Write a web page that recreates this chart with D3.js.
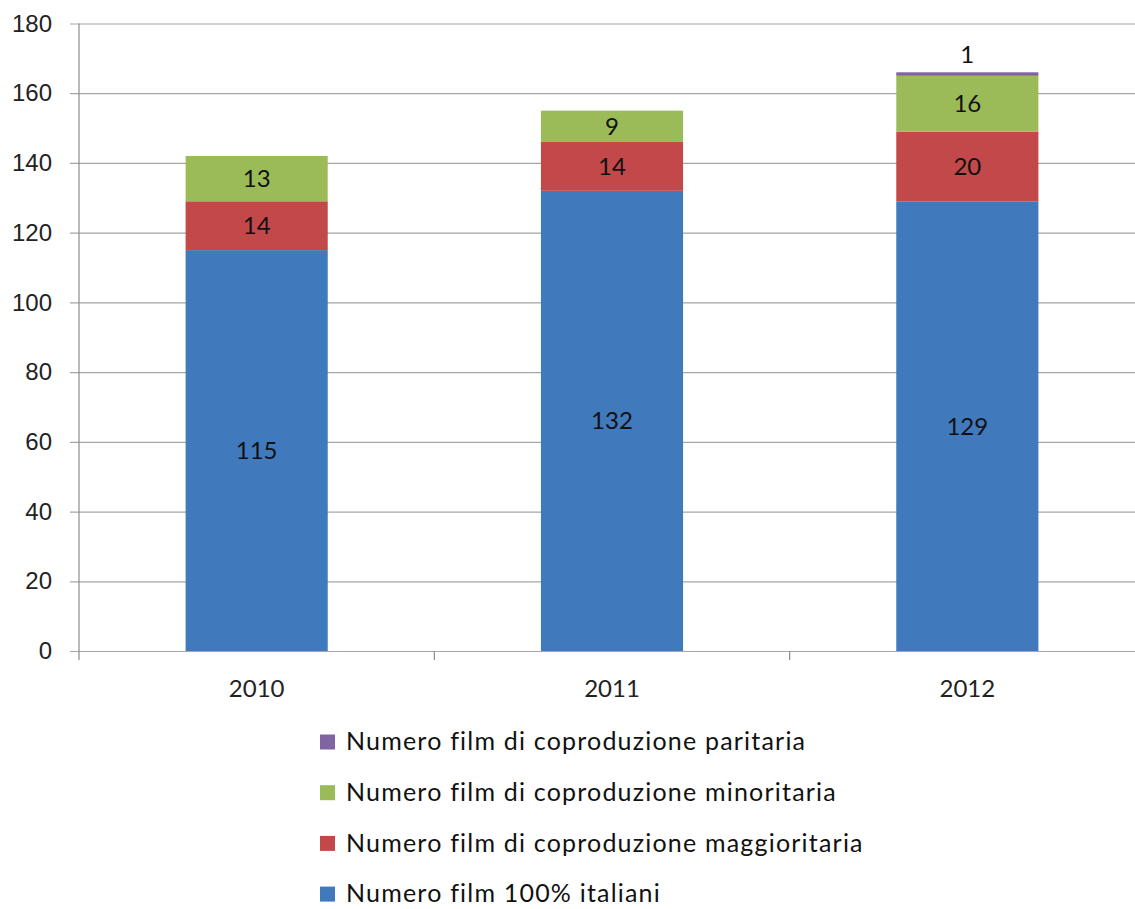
<!DOCTYPE html>
<html>
<head>
<meta charset="utf-8">
<script src="https://cdn.jsdelivr.net/npm/d3@7"></script>
<style>
  body { margin: 0; background: #fff; }
  svg { display: block; font-family: Lato, "Open Sans", sans-serif; }
</style>
</head>
<body>
<div id="chart"></div>
<script>
// data
const years = ["2010", "2011", "2012"];
const italiani = [115, 132, 129];
const maggioritaria = [14, 14, 20];
const minoritaria = [13, 9, 16];
const paritaria = [0, 0, 1];
const yTicks = [0, 20, 40, 60, 80, 100, 120, 140, 160, 180];

const seriesNames = [
  "Numero film 100% italiani",
  "Numero film di coproduzione maggioritaria",
  "Numero film di coproduzione minoritaria",
  "Numero film di coproduzione paritaria"
];
const colors = ["#4179bd", "#c3484a", "#9bbb59", "#8064a2"];

const width = 1135, height = 909;
const margin = { left: 79, top: 23.5, right: -10, bottom: 258 };

let svg = d3.select("#chart").append("svg")
  .attr("width", width)
  .attr("height", height);

let table = years.map((y, i) => ({
  year: y,
  s0: italiani[i], s1: maggioritaria[i], s2: minoritaria[i], s3: paritaria[i]
}));
let stack = d3.stack().keys(["s0", "s1", "s2", "s3"])(table);

let x = d3.scaleBand()
  .domain(years)
  .range([margin.left, width - margin.right])
  .paddingInner(0.6).paddingOuter(0.3);

let y = d3.scaleLinear()
  .domain([0, 180])
  .range([height - margin.bottom, margin.top]);

// gridlines + y axis
let yAxis = svg.append("g")
  .attr("transform", `translate(${margin.left},0)`)
  .call(d3.axisLeft(y).tickValues(yTicks).tickSize(9).tickPadding(6).tickFormat(d3.format("d")));
yAxis.select(".domain").remove();
yAxis.selectAll(".tick line")
  .attr("x2", width)
  .attr("x1", -9)
  .attr("stroke", "#a6a6a6")
  .attr("stroke-width", 1.2);
yAxis.selectAll(".tick text")
  .attr("x", -27)
  .attr("fill", "#222")
  .style("font-size", "24px");

svg.append("line")
  .attr("x1", margin.left).attr("x2", margin.left)
  .attr("y1", y(180)).attr("y2", y(0) + 9)
  .attr("stroke", "#8c8c8c").attr("stroke-width", 1.2);

// category ticks between bands
let step = x.step();
let bounds = [0, 1, 2].map(i => x(years[i]) + x.bandwidth() / 2 + step / 2);
svg.selectAll(".ctick").data(bounds).enter().append("line")
  .attr("x1", d => d).attr("x2", d => d)
  .attr("y1", y(0)).attr("y2", y(0) + 9)
  .attr("stroke", "#8c8c8c").attr("stroke-width", 1.2);

// bars
let layers = svg.selectAll(".layer").data(stack).enter().append("g")
  .attr("fill", (d, i) => colors[i]);

layers.selectAll("rect").data(d => d).enter().append("rect")
  .attr("x", d => x(d.data.year))
  .attr("width", x.bandwidth())
  .attr("y", d => y(d[1]))
  .attr("height", d => y(d[0]) - y(d[1]));

// value labels
stack.forEach((layer, li) => {
  layer.forEach(d => {
    let v = d[1] - d[0];
    if (v <= 0) return;
    let cy = li === 3 ? y(d[1]) - 18 : (y(d[0]) + y(d[1])) / 2;
    svg.append("text")
      .attr("x", x(d.data.year) + x.bandwidth() / 2)
      .attr("y", cy)
      .attr("dy", "0.35em")
      .attr("text-anchor", "middle")
      .attr("fill", "#111")
      .style("font-size", "24px")
      .text(v);
  });
});

// x labels
svg.selectAll(".xlab").data(years).enter().append("text")
  .attr("x", d => x(d) + x.bandwidth() / 2)
  .attr("y", y(0) + 38)
  .attr("dy", "0.35em")
  .attr("text-anchor", "middle")
  .attr("fill", "#222")
  .style("font-size", "24px")
  .text(d => d);

// legend
let legendOrder = [3, 2, 1, 0];
let legend = svg.selectAll(".leg").data(legendOrder).enter().append("g")
  .attr("transform", (d, i) => `translate(320, ${742 + i * 50.7})`);
legend.append("rect")
  .attr("x", 0).attr("y", -7.5)
  .attr("width", 15).attr("height", 15)
  .attr("fill", d => colors[d]);
legend.append("text")
  .attr("x", 26).attr("y", 0)
  .attr("dy", "0.33em")
  .attr("fill", "#111")
  .style("font-size", "25px")
  .style("letter-spacing", "1.2px")
  .text(d => seriesNames[d]);
</script>
</body>
</html>
